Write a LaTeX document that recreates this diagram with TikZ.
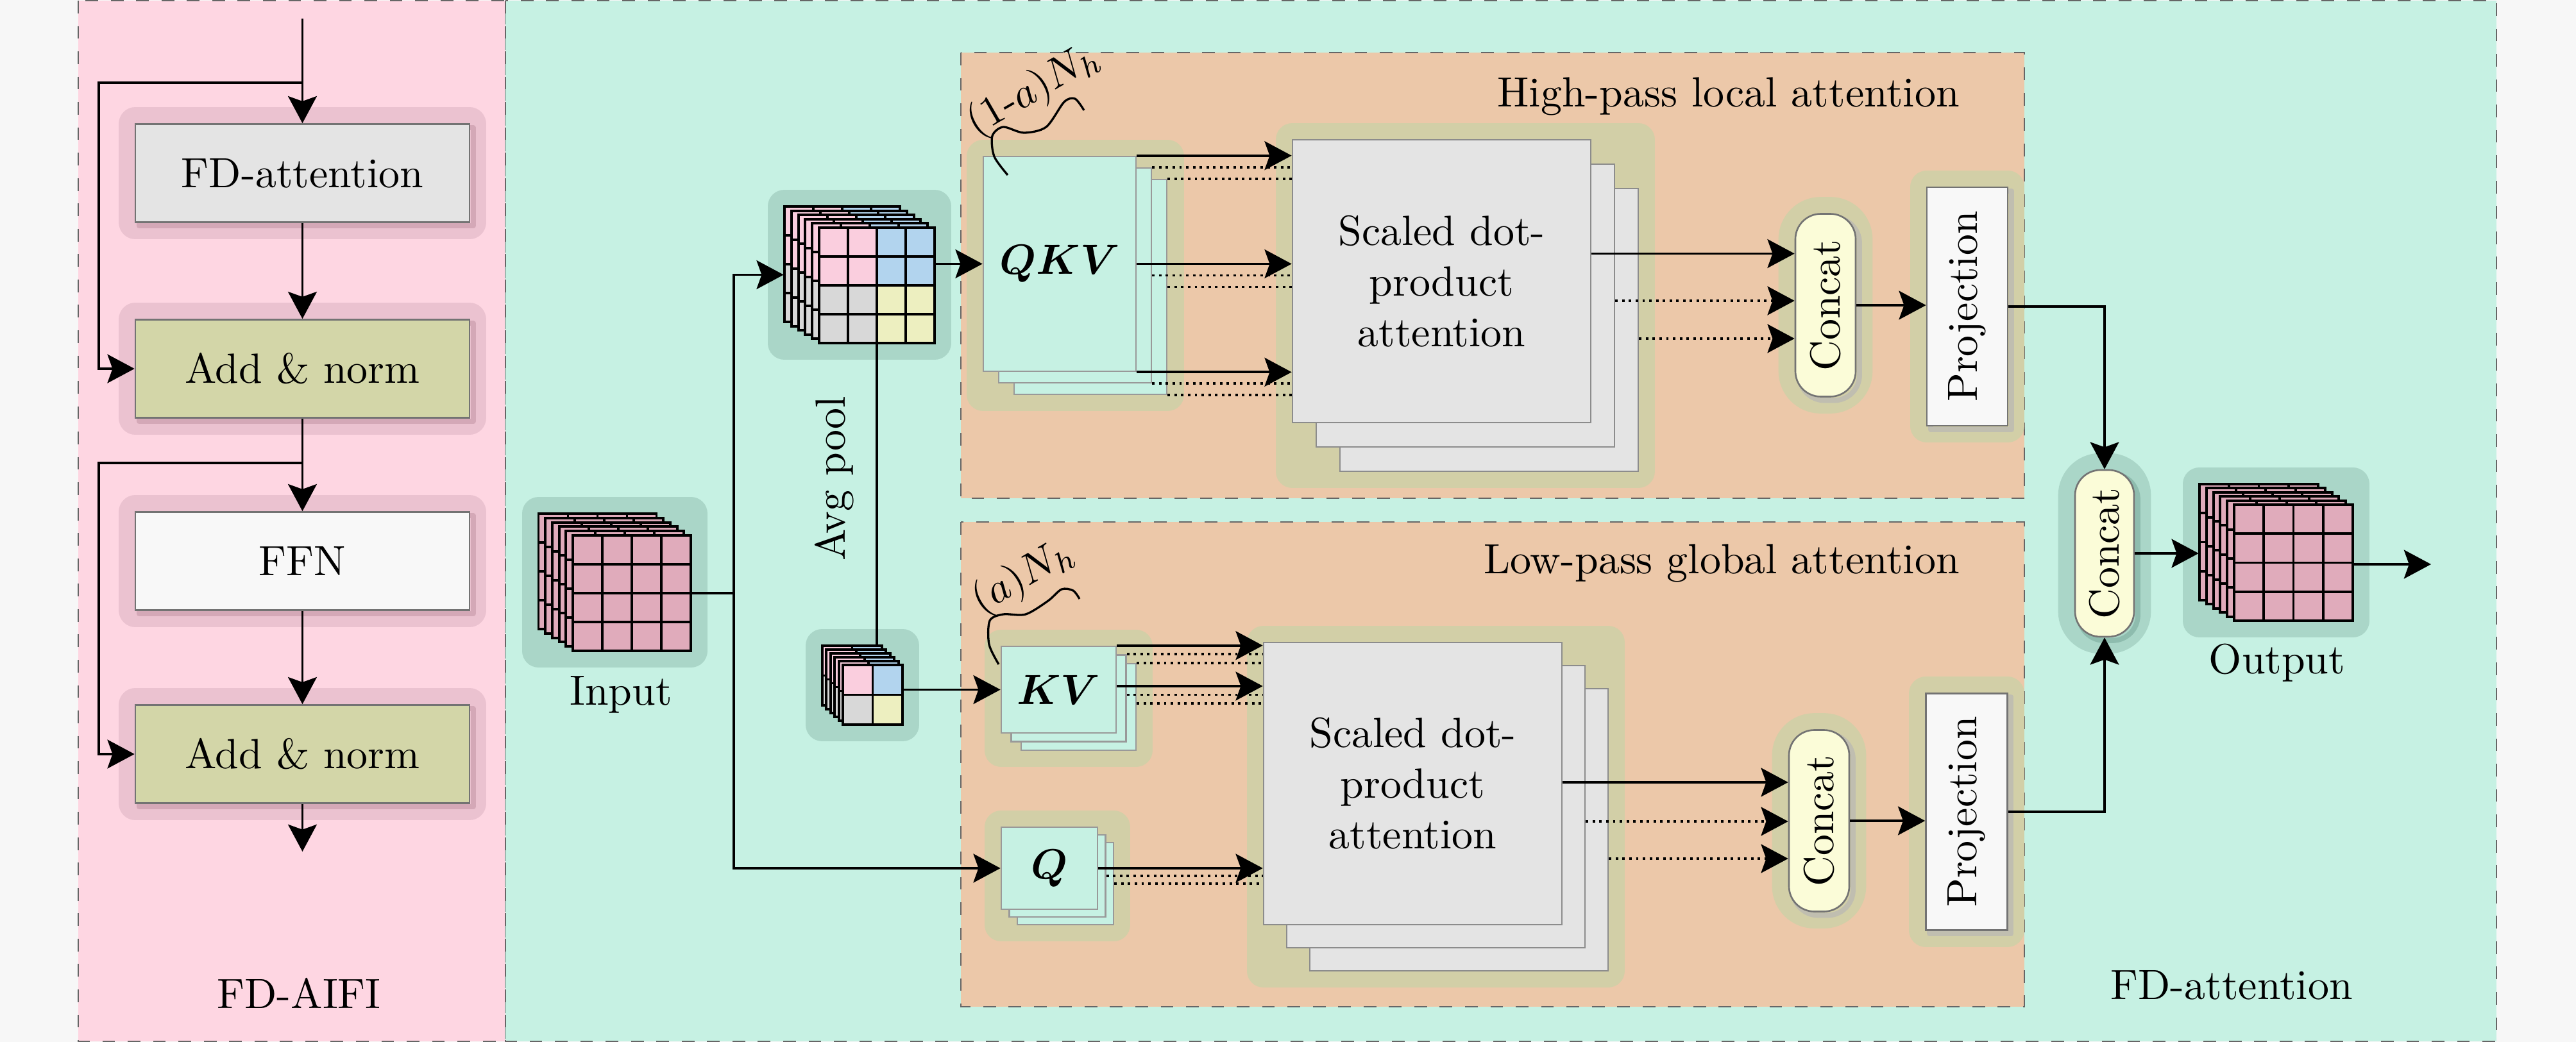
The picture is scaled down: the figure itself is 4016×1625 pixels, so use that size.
\documentclass[tikz,border=0pt]{standalone}
\usepackage{bm}
\usetikzlibrary{arrows.meta,calc,fit}
\newcommand\PXU{0.15175pt}
\definecolor{bgC}{RGB}{247,247,247}
\definecolor{pinkP}{RGB}{254,214,226}
\definecolor{tealP}{RGB}{198,241,227}
\definecolor{peachP}{RGB}{236,200,169}
\definecolor{grayB}{RGB}{228,228,228}
\definecolor{oliveB}{RGB}{211,214,168}
\definecolor{whiteB}{RGB}{248,248,248}
\definecolor{yelB}{RGB}{251,252,216}
\definecolor{haloPo}{RGB}{235,194,208}
\definecolor{haloPi}{RGB}{212,168,183}
\definecolor{haloOo}{RGB}{210,207,167}
\definecolor{haloOi}{RGB}{192,190,176}
\definecolor{haloTo}{RGB}{170,214,200}
\definecolor{haloTi}{RGB}{142,188,174}
\definecolor{cubeP}{RGB}{224,171,187}
\definecolor{cellP}{RGB}{250,206,222}
\definecolor{cellB}{RGB}{178,212,238}
\definecolor{cellG}{RGB}{216,216,216}
\definecolor{cellY}{RGB}{237,239,192}
\tikzset{
  sz/.style 2 args={minimum width={(#1)*\PXU}, minimum height={(#2)*\PXU}, inner sep=0pt},
  halo/.style 2 args={
    preaction={draw=#1, fill=#1, line width=8pt, line join=round},
    preaction={draw=#2, line width=1.2pt, line join=round,
               transform canvas={xshift=0.9pt,yshift=-0.9pt}}},
  shalo/.style={preaction={draw=#1, fill=#1, line width=8pt, line join=round}},
  box/.style={draw=black!55, line width=0.4pt, align=center},
  panel/.style={draw=black!60, dashed, line width=0.35pt},
  conn/.style={line width=0.6pt, -{Stealth[length=6.4pt,width=6.8pt,inset=1.2pt]}},
  plain/.style={line width=0.6pt},
  dotc/.style={line width=0.6pt, densely dotted},
  gridl/.style={line width=0.6pt, draw=black},
}
\begin{document}
\begin{tikzpicture}[x=\PXU, y=-\PXU]
\useasboundingbox (0,0) rectangle (4016,1625);
\fill[bgC] (0,0) rectangle (4016,1625);
% panels
\draw[panel, fill=pinkP] (122,1) rectangle (788,1624);
\draw[panel, fill=tealP] (788,1) rectangle (3892,1624);
\draw[panel, fill=peachP] (1498,82) rectangle (3156,777);
\draw[panel, fill=peachP] (1498,814) rectangle (3156,1570);

% ---------- FD-AIFI ----------
\node[box, sz={521}{153}, fill=grayB, halo={haloPo}{haloPi}] (fda) at (471.5,270) {FD-attention};
\node[box, sz={521}{153}, fill=oliveB, halo={haloPo}{haloPi}] (an1) at (471.5,575) {Add \& norm};
\node[box, sz={521}{153}, fill=whiteB, halo={haloPo}{haloPi}] (ffn) at (471.5,875) {FFN};
\node[box, sz={521}{153}, fill=oliveB, halo={haloPo}{haloPi}] (an2) at (471.5,1176) {Add \& norm};
\coordinate (tIn) at (471.5,29);
\coordinate (bOut) at (471.5,1328);
\coordinate (r1) at (154,129);
\coordinate (r2) at (154,722);
\draw[conn] (tIn) -- (fda.north);
\draw[conn] (tIn |- r1) -- (r1) |- (an1.west);
\draw[conn] (fda.south) -- (an1.north);
\draw[conn] (an1.south) -- (ffn.north);
\draw[conn] (an1.south |- r2) -- (r2) |- (an2.west);
\draw[conn] (ffn.south) -- (an2.north);
\draw[conn] (an2.south) -- (bOut);
\node (aifi) at (466,1549) {FD-AIFI};

% ---------- Input cube ----------
\path[shalo=haloTo] (840,801) rectangle (1077,1015);
\foreach \k in {5,4,...,0}{
 \begin{scope}[shift={(-10.7*\k,-6.8*\k)}]
  \fill[cubeP] (893,835) rectangle (1077,1015);
  \foreach \i in {1,2,3}{\draw[gridl] (893+46*\i,835) -- ++(0,180); \draw[gridl] (893,835+45*\i) -- ++(184,0);}
  \draw[gridl] (893,835) rectangle (1077,1015);
 \end{scope}}
\node[sz={184}{180}] (inpF) at (985,925) {};
\node (inpL) at (968,1083) {Input};

% ---------- Avg-pool cube ----------
\path[shalo=haloTo] (1223,322) rectangle (1457,535);
\foreach \k in {5,4,...,0}{
 \begin{scope}[shift={(-10.8*\k,-6.6*\k)}]
  \fill[cellP] (1277,355) rectangle (1367,445);
  \fill[cellB] (1367,355) rectangle (1457,445);
  \fill[cellG] (1277,445) rectangle (1367,535);
  \fill[cellY] (1367,445) rectangle (1457,535);
  \foreach \i in {1,2,3}{\draw[gridl] (1277+45*\i,355) -- ++(0,180); \draw[gridl] (1277,355+45*\i) -- ++(180,0);}
  \draw[gridl] (1277,355) rectangle (1457,535);
 \end{scope}}
\node[sz={180}{180}] (apF) at (1367,445) {};
\node[fit={(1223,322) (1457,535)}, inner sep=0pt] (apS) {};
\node[rotate=90] (avgL) at (1301,746) {Avg pool};

% ---------- small cube ----------
\path[shalo=haloTo] (1282,1007) rectangle (1407,1130);
\foreach \k in {5,4,...,0}{
 \begin{scope}[shift={(-6.4*\k,-6*\k)}]
  \fill[cellP] (1314,1037) rectangle (1360.5,1083.5);
  \fill[cellB] (1360.5,1037) rectangle (1407,1083.5);
  \fill[cellG] (1314,1083.5) rectangle (1360.5,1130);
  \fill[cellY] (1360.5,1083.5) rectangle (1407,1130);
  \draw[gridl] (1360.5,1037) -- (1360.5,1130);
  \draw[gridl] (1314,1083.5) -- (1407,1083.5);
  \draw[gridl] (1314,1037) rectangle (1407,1130);
 \end{scope}}
\node[sz={93}{93}] (smF) at (1360.5,1083.5) {};
\node[fit={(1282,1007) (1407,1130)}, inner sep=0pt] (smS) {};

% ---------- High-pass local attention ----------
\node[anchor=east, inner sep=0pt] (hlab) at (3056,150) {High-pass local attention};
\path[shalo=haloOo] (1533,244) rectangle (1820,615);
\node[box, draw=black!40, fill=tealP, sz={238}{335}] (qkv2) at (1700,447.5) {};
\node[box, draw=black!40, fill=tealP, sz={238}{335}] (qkv1) at (1676,429.5) {};
\node[box, draw=black!40, fill=tealP, sz={238}{335}] (qkv0) at (1652,411.5) {$\bm{QKV}$};
\path[shalo=haloOo] (2015,218) rectangle (2554,735);
\node[box, draw=black!45, fill=grayB, sz={465}{441}] (sd2) at (2321.5,514.5) {};
\node[box, draw=black!45, fill=grayB, sz={465}{441}] (sd1) at (2284.5,476.5) {};
\node[box, draw=black!45, fill=grayB, sz={465}{441}] (sd0) at (2247.5,438.5) {Scaled dot-\\product\\attention};
\node[box, rounded corners=6pt, fill=yelB, sz={94}{285}, halo={haloOo}{haloOi}] (hc) at (2846,476) {\rotatebox{90}{Concat}};
\node[box, fill=whiteB, sz={126}{372}, halo={haloOo}{haloOi}] (hp) at (3067,478) {\rotatebox{90}{Projection}};
\node[rotate=30, inner sep=0pt] (hN) at (1612,141) {$(1\mbox{-}a)N_h$};
\draw[line width=0.5pt] plot[smooth] coordinates {(1571,273) (1550,244) (1547,212) (1564,198) (1596,207) (1631,198) (1659,159) (1676,154) (1690,172)};
\draw[conn] (qkv0.north east) -- (qkv0.north east -| sd0.west);
\draw[conn] (qkv0.east) -- (qkv0.east -| sd0.west);
\draw[conn] (qkv0.south east) -- (qkv0.south east -| sd0.west);
\foreach \n in {1,2}{
  \draw[dotc] (qkv\n.north east) -- (qkv\n.north east -| sd0.west);
  \draw[dotc] (qkv\n.east) -- (qkv\n.east -| sd0.west);
  \draw[dotc] (qkv\n.south east) -- (qkv\n.south east -| sd0.west);
}
\coordinate (h1) at ($(sd0.east)+(0,-43)$);
\coordinate (h2) at ($(sd1.east)+(0,-7.5)$);
\coordinate (h3) at ($(sd2.east)+(0,13.5)$);
\draw[conn] (h1) -- (h1 -| hc.west);
\draw[conn, densely dotted] (h2) -- (h2 -| hc.west);
\draw[conn, densely dotted] (h3) -- (h3 -| hc.west);
\draw[conn] (hc.east) -- (hc.east -| hp.west);

% ---------- Low-pass global attention ----------
\node[anchor=east, inner sep=0pt] (llab) at (3056,878) {Low-pass global attention};
\path[shalo=haloOo] (1561,1008) rectangle (1771,1170);
\node[box, draw=black!40, fill=tealP, sz={179}{135}] (kv2) at (1681.5,1102.5) {};
\node[box, draw=black!40, fill=tealP, sz={179}{135}] (kv1) at (1666,1089) {};
\node[box, draw=black!40, fill=tealP, sz={179}{135}] (kv0) at (1650.5,1075.5) {$\bm{KV}$};
\path[shalo=haloOo] (1561,1290) rectangle (1736,1442);
\node[box, draw=black!40, fill=tealP, sz={150}{128}] (q2) at (1661,1378) {};
\node[box, draw=black!40, fill=tealP, sz={150}{128}] (q1) at (1648.5,1366) {};
\node[box, draw=black!40, fill=tealP, sz={150}{128}] (q0) at (1636,1354) {$\bm{Q}$};
\path[shalo=haloOo] (1970,1002) rectangle (2507,1514);
\node[box, draw=black!45, fill=grayB, sz={465}{440}] (lsd2) at (2274.5,1294) {};
\node[box, draw=black!45, fill=grayB, sz={465}{440}] (lsd1) at (2238.5,1258) {};
\node[box, draw=black!45, fill=grayB, sz={465}{440}] (lsd0) at (2202.5,1222) {Scaled dot-\\product\\attention};
\node[box, rounded corners=6pt, fill=yelB, sz={94}{283}, halo={haloOo}{haloOi}] (lc) at (2836,1280) {\rotatebox{90}{Concat}};
\node[box, fill=whiteB, sz={127}{369}, halo={haloOo}{haloOi}] (lp) at (3066,1266) {\rotatebox{90}{Projection}};
\node[rotate=30, inner sep=0pt] (lN) at (1596,900) {$(a)N_h$};
\draw[line width=0.5pt] plot[smooth] coordinates {(1557,1036) (1542,1005) (1543,968) (1564,958) (1599,958) (1634,937) (1655,919) (1673,921) (1683,934)};
\coordinate (k1) at ($(kv0.east)+(0,-5.5)$);
\draw[conn] (kv0.north east) -- (kv0.north east -| lsd0.west);
\draw[conn] (k1) -- (k1 -| lsd0.west);
\coordinate (k21) at ($(kv1.east)+(0,-5.5)$);
\coordinate (k22) at ($(kv2.east)+(0,-5.5)$);
\draw[dotc] (kv1.north east) -- (kv1.north east -| lsd0.west);
\draw[dotc] (kv2.north east) -- (kv2.north east -| lsd0.west);
\draw[dotc] (k21) -- (k21 -| lsd0.west);
\draw[dotc] (k22) -- (k22 -| lsd0.west);
\draw[conn] (q0.east) -- (q0.east -| lsd0.west);
\draw[dotc] (q1.east) -- (q1.east -| lsd0.west);
\draw[dotc] (q2.east) -- (q2.east -| lsd0.west);
\coordinate (g1) at ($(lsd0.east)+(0,-2)$);
\coordinate (g2) at ($(lsd1.east)+(0,23)$);
\coordinate (g3) at ($(lsd2.east)+(0,45)$);
\draw[conn] (g1) -- (g1 -| lc.west);
\draw[conn, densely dotted] (g2) -- (g2 -| lc.west);
\draw[conn, densely dotted] (g3) -- (g3 -| lc.west);
\draw[conn] (lc.east) -- (lc.east -| lp.west);

% ---------- Output side ----------
\node[box, rounded corners=6pt, fill=yelB, sz={92}{260}, halo={haloTo}{haloTi}] (bc) at (3281,863) {\rotatebox{90}{Concat}};
\path[shalo=haloTo] (3429,755) rectangle (3668,968);
\foreach \k in {5,4,...,0}{
 \begin{scope}[shift={(-10.8*\k,-6.4*\k)}]
  \fill[cubeP] (3483,787) rectangle (3668,968);
  \foreach \i in {1,2,3}{\draw[gridl] (3483+46.25*\i,787) -- ++(0,181); \draw[gridl] (3483,787+45.25*\i) -- ++(185,0);}
  \draw[gridl] (3483,787) rectangle (3668,968);
 \end{scope}}
\node[sz={185}{181}] (outF) at (3575.5,877.5) {};
\node[fit={(3429,755) (3668,968)}, inner sep=0pt] (outS) {};
\node (outL) at (3550,1034) {Output};
\coordinate (oEnd) at (3790,880);
\node (fdaL) at (3479,1536) {FD-attention};

% ---------- connectors in teal panel ----------
\coordinate (sp) at (1144,925);
\draw[plain] (inpF.east) -- (sp);
\draw[conn] (sp) |- (apS.west);
\draw[conn] (sp) |- (q0.west);
\draw[conn] (apF.east |- qkv0.west) -- (qkv0.west);
\draw[plain] (apF.south) -- (apF.south |- smS.north);
\draw[conn] (smF.east |- kv0.west) -- (kv0.west);
\draw[conn] (hp.east) -| (bc.north);
\draw[conn] (lp.east) -| (bc.south);
\draw[conn] (bc.east) -- (bc.east -| outS.west);
\draw[conn] (outF.east |- oEnd) -- (oEnd);
\end{tikzpicture}
\end{document}
